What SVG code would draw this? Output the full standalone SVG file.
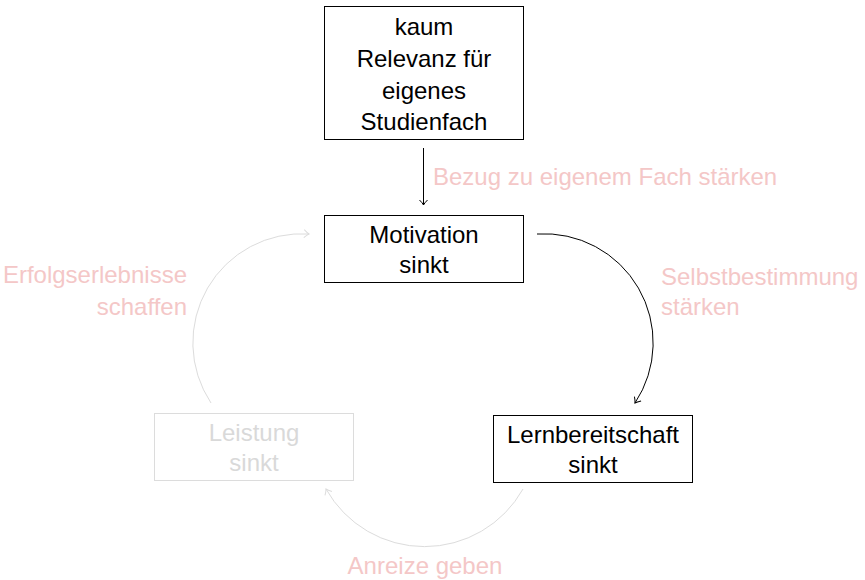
<svg xmlns="http://www.w3.org/2000/svg" width="865" height="580" viewBox="0 0 865 580">
<style>
text{font-family:"Liberation Sans","DejaVu Sans",sans-serif;font-size:24px}
.n{fill:#000;text-anchor:middle}
.g{fill:#d9d9d9;text-anchor:middle}
.l{fill:#f4c7c7}
.box{fill:#fff;stroke:#000;stroke-width:1}
.gbox{fill:#fff;stroke:#dcdcdc;stroke-width:1}
.c{fill:none;stroke:#000;stroke-width:1}
.cg{fill:none;stroke:#dcdcdc;stroke-width:1}
</style>
<defs>
<marker id="ab" viewBox="-6 -5 8 10" refX="0" refY="0" markerWidth="8" markerHeight="10" markerUnits="userSpaceOnUse" orient="auto">
<path d="M-5,-4 Q-2,-1 0,0 Q-2,1 -5,4" fill="none" stroke="#000" stroke-width="1"/>
</marker>
<marker id="ag" viewBox="-6 -5 8 10" refX="0" refY="0" markerWidth="8" markerHeight="10" markerUnits="userSpaceOnUse" orient="auto">
<path d="M-5,-4 Q-2,-1 0,0 Q-2,1 -5,4" fill="none" stroke="#dcdcdc" stroke-width="1"/>
</marker>
</defs>
<g id="connectors">
<line class="c" x1="423.5" y1="148" x2="423.5" y2="205" marker-end="url(#ab)"/>
<path class="c" d="M537,234 A109,109 0 0 1 635,403" marker-end="url(#ab)"/>
<path class="cg" d="M523,489 A113,113 0 0 1 326,489" marker-end="url(#ag)"/>
<path class="cg" d="M211,403 A109,109 0 0 1 309,234" marker-end="url(#ag)"/>
</g>
<g id="labels">
<text class="l" x="433" y="185">Bezug zu eigenem Fach stärken</text>
<text class="l" x="661" y="285">Selbstbestimmung</text>
<text class="l" x="661" y="315">stärken</text>
<text class="l" x="187" y="283" text-anchor="end">Erfolgserlebnisse</text>
<text class="l" x="187" y="315" text-anchor="end">schaffen</text>
<text class="l" x="425" y="574" text-anchor="middle">Anreize geben</text>
</g>
<g id="node-kaum">
<rect class="box" x="324.5" y="6.5" width="199" height="133"/>
<text class="n" x="424" y="35">kaum</text>
<text class="n" x="424" y="67">Relevanz für</text>
<text class="n" x="424" y="99">eigenes</text>
<text class="n" x="424" y="130">Studienfach</text>
</g>
<g id="node-motivation">
<rect class="box" x="324.5" y="215.5" width="199" height="67"/>
<text class="n" x="424" y="243">Motivation</text>
<text class="n" x="424" y="273">sinkt</text>
</g>
<g id="node-lern">
<rect class="box" x="493.5" y="415.5" width="199" height="67"/>
<text class="n" x="593" y="443">Lernbereitschaft</text>
<text class="n" x="593" y="473">sinkt</text>
</g>
<g id="node-leistung">
<rect class="gbox" x="154.5" y="413.5" width="199" height="67"/>
<text class="g" x="254" y="441">Leistung</text>
<text class="g" x="254" y="471">sinkt</text>
</g>
</svg>
